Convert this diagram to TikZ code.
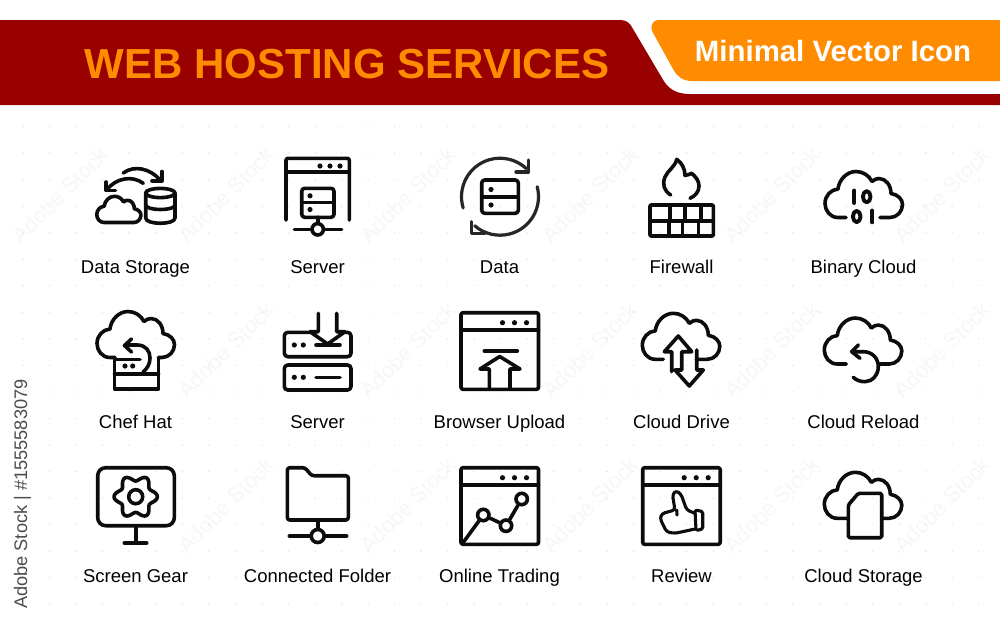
\documentclass[tikz,border=0pt]{standalone}
\usepackage{fontspec}
\setmainfont{Liberation Sans}
\definecolor{bandred}{HTML}{990000}
\definecolor{bandorange}{HTML}{FF8C00}
\definecolor{inkdark}{HTML}{0C0C0C}
\tikzset{
  iconline/.style={draw=inkdark, line width=3.6pt, line cap=round, line join=round},
  slimline/.style={draw=inkdark, line width=3.1pt, line cap=round, line join=round},
  digitline/.style={draw=inkdark, line width=3.9pt, line cap=round, line join=round},
  tinydot/.style={circle, fill=inkdark, inner sep=0pt, minimum size=5.2pt},
  hubring/.style={circle, draw=inkdark, line width=3.6pt, fill=white, inner sep=0pt, minimum size=11.4pt},
  iconlabel/.style={anchor=base, font=\fontsize{18.5}{20}\selectfont, text=black, inner sep=0pt},
  markfaint/.style={rotate=45, font=\fontsize{22}{24}\selectfont, text=black!3, inner sep=0pt},
}
% outline of a cloud, its bottom runs from #1 to #2
\newcommand{\cloudline}[2]{
  \draw[iconline] (#1,0) -- (-26,0) .. controls (-34,0) and (-39,-7) .. (-39,-14)
    .. controls (-39,-22) and (-33,-28) .. (-26,-28.5)
    .. controls (-25,-38) and (-17,-46) .. (-8,-46)
    .. controls (-1,-46) and (5,-42) .. (8,-36)
    .. controls (10,-38) and (13,-39) .. (15,-39)
    .. controls (22,-39) and (27,-32) .. (27,-24)
    .. controls (34,-23) and (38.5,-18) .. (38.5,-13)
    .. controls (38.5,-6) and (33,0) .. (26,0) -- (#2,0);
}
% browser window with three dots
\newcommand{\browserbox}[3]{
  \begin{scope}[shift={(#2,#3)}]
    \draw[iconline, rounded corners=2pt] (0,0) rectangle (77.5,76.6);
    \draw[iconline] (0,17) -- (77.5,17);
    \node[tinydot] (#1a) at (41.5,10){};
    \node[tinydot] (#1b) at (53.5,10){};
    \node[tinydot] (#1c) at (65.5,10){};
  \end{scope}
}
\begin{document}
\begin{tikzpicture}[x=1pt, y=-1pt]
\useasboundingbox (0,0) rectangle (1000,625);
\fill[white] (0,0) rectangle (1000,625);
% background marks
\foreach \mx/\my/\mtag in {60/195/a, 226/195/b, 408/195/c, 590/195/d, 772/195/e, 942/195/f,
  226/350/g, 408/350/h, 590/350/i, 772/350/j, 942/350/k,
  226/505/l, 408/505/m, 590/505/n, 772/505/o, 942/505/p}
  \node[markfaint] (mark\mtag) at (\mx,\my) {Adobe Stock};
\foreach \i in {-2,...,35}
  \foreach \j in {-1,...,17}
    \fill[black!9] ({76+26.55*\i},{153+26.55*\j}) circle (0.9);
% header
\fill[bandred] (0,20) -- (620,20) .. controls (627,20) and (630,23) .. (633,29) -- (662,78)
  .. controls (668,89) and (676,94) .. (690,94) -- (1000,94) -- (1000,105) -- (0,105) -- cycle;
\fill[bandorange] (658,20) -- (1000,20) -- (1000,81) -- (692,81)
  .. controls (682,81) and (677,76) .. (673,69) -- (652,31) .. controls (650,26) and (653,20) .. (658,20) -- cycle;
\node[anchor=base, font=\bfseries\fontsize{42}{44}\selectfont, text=bandorange, inner sep=0pt] (headtitle) at (347,78) {WEB HOSTING SERVICES};
\node[anchor=base, font=\bfseries\fontsize{29.4}{32}\selectfont, text=white, inner sep=0pt] (headsub) at (833,61) {Minimal Vector Icon};
% side text
\node[anchor=west, rotate=90, font=\fontsize{18.2}{20}\selectfont, text=black!70, inner sep=0pt] (stockid) at (22.5,609) {Adobe Stock | \#1555583079};
% labels
\foreach \px/\py/\txt/\tag in {135.5/273.5/Data Storage/lblstorage, 317.5/273.5/Server/lblserver, 499.5/273.5/Data/lbldata, 681.5/273.5/Firewall/lblfirewall, 863.5/273.5/Binary Cloud/lblbinary,
  135.5/428.3/Chef Hat/lblchef, 317.5/428.3/Server/lblservertwo, 499.5/428.3/Browser Upload/lblupload, 681.5/428.3/Cloud Drive/lbldrive, 863.5/428.3/Cloud Reload/lblreload,
  135.5/582.7/Screen Gear/lblgear, 317.5/582.7/Connected Folder/lblfolder, 499.5/582.7/Online Trading/lbltrading, 681.5/582.7/Review/lblreview, 863.5/582.7/Cloud Storage/lblcloud}
  \node[iconlabel] (\tag) at (\px,\py) {\txt};
% data storage
\begin{scope}[shift={(119,222.5)}, scale=.57]
  \cloudline{0}{0}
\end{scope}
\draw[iconline] (160.3,193) ellipse [x radius=14.7, y radius=4.6];
\draw[iconline] (145.7,193) -- (145.7,218) .. controls (145.7,225) and (175,225) .. (175,218) -- (175,193);
\draw[iconline] (145.7,205) .. controls (146,211) and (175,211) .. (175,205);
\draw[iconline] (123.3,173) .. controls (134,165) and (150,168) .. (160.5,180.5);
\draw[iconline] (161.7,171.5) -- (161.7,181) -- (152,181);
\draw[iconline] (143.3,183.3) .. controls (132,175) and (116,178) .. (106.5,190);
\draw[iconline] (106.2,182) -- (106.2,190.5) -- (115.5,190.5);
% server in window
\draw[iconline, rounded corners=2pt] (286,220) -- (286,158.3) -- (349.3,158.3) -- (349.3,220);
\draw[iconline] (286,171.7) -- (349.3,171.7);
\node[tinydot] (srvdota) at (320,166){};
\node[tinydot] (srvdotb) at (330,166){};
\node[tinydot] (srvdotc) at (340,166){};
\draw[iconline, rounded corners=3pt] (301.7,188.3) rectangle (334,217.3);
\draw[iconline] (301.7,202.5) -- (334,202.5);
\node[tinydot] (srvdotd) at (310,195.8){};
\node[tinydot] (srvdote) at (310,209.5){};
\coordinate (srvtop) at (317.7,217.3);
\coordinate (srvleft) at (294.3,229.3);
\coordinate (srvright) at (341.7,229.3);
\node[hubring] (srvhub) at (317.7,229.3){};
\draw[iconline] (srvtop) -- (srvhub);
\draw[iconline] (srvleft) -- (srvhub);
\draw[iconline] (srvhub) -- (srvright);
% data
\draw[iconline, line width=3.2pt, draw=black!85] (500,196.7) ++(163:38.5) arc (163:313:38.5);
\draw[iconline, line width=3.2pt, draw=black!85] (500,196.7) ++(-15:38.5) arc (-15:131:38.5);
\draw[iconline, line width=3.2pt, draw=black!85] (528.5,160) -- (528.5,172) -- (516,172);
\draw[iconline, line width=3.2pt, draw=black!85] (471.7,221.7) -- (471.7,233.3) -- (485,233.3);
\draw[iconline, rounded corners=3pt] (481.7,180) rectangle (518.3,213.3);
\draw[iconline] (481.7,196.7) -- (518.3,196.7);
\node[tinydot] (datadota) at (491,189.5){};
\node[tinydot] (datadotb) at (491,205){};
% firewall
\draw[iconline] (670.7,195) .. controls (664,191) and (662,184) .. (665,177)
  .. controls (668,170) and (675,167) .. (676.7,159.3) .. controls (682,163) and (685,169) .. (685,175.5)
  .. controls (688,175) and (690,174) .. (691.7,173.3) .. controls (696,177) and (699,181) .. (699,186)
  .. controls (699,192) and (695,196) .. (690,198.3);
\draw[iconline, rounded corners=1pt] (650,205) rectangle (713.3,236);
\draw[iconline] (650,220.7) -- (713.3,220.7);
\foreach \wx in {670, 685, 701}
  \draw[iconline] (\wx,205) -- (\wx,220.7);
\foreach \wx in {669, 682.3, 698.3}
  \draw[iconline] (\wx,220.7) -- (\wx,236);
% binary cloud
\begin{scope}[shift={(864,217.5)}]
  \cloudline{-18}{16}
\end{scope}
\draw[digitline] (854.3,190.5) -- (854.3,203);
\draw[digitline] (866.7,196.7) ellipse [x radius=3.8, y radius=5.6];
\draw[digitline] (856.7,216.5) ellipse [x radius=3.8, y radius=5.6];
\draw[digitline] (872.3,210.5) -- (872.3,222.3);
% chef hat
\begin{scope}[shift={(136,357.5)}]
  \cloudline{-21}{22.5}
\end{scope}
\draw[iconline] (114.5,357.5) -- (114.5,389) -- (158.5,389) -- (158.5,357.5);
\draw[iconline] (114.5,374) -- (158.5,374);
\draw[iconline] (116.7,359.5) -- (140,359.5);
\node[tinydot] (hatdota) at (125,366){};
\node[tinydot] (hatdotb) at (132.7,366){};
\draw[iconline] (125,345) -- (137,345) .. controls (146,345) and (150,351) .. (150,358) .. controls (150,364) and (147,369) .. (143,372);
\draw[iconline] (131.5,339) -- (124.5,345.5) -- (131.5,352);
% server with download
\draw[iconline, rounded corners=3.5pt] (310,332.3) -- (284.3,332.3) -- (284.3,356.7) -- (351,356.7) -- (351,332.3) -- (345,332.3);
\draw[iconline, rounded corners=3.5pt] (284.3,365) rectangle (351,390);
\draw[iconline] (318.3,313.3) -- (318.3,331.7) -- (310,331.7) -- (327.7,344) -- (345,331.7) -- (336.7,331.7) -- (336.7,313.3);
\node[tinydot] (boxdota) at (294.3,345){};
\node[tinydot] (boxdotb) at (303.3,345){};
\node[tinydot] (boxdotc) at (294.3,377.3){};
\node[tinydot] (boxdotd) at (303.3,377.3){};
\draw[iconline] (316,345) -- (340,345);
\draw[iconline] (316,377.3) -- (340,377.3);
% browser upload
\browserbox{upl}{461}{312.7}
\draw[iconline] (484.3,351) -- (517.3,351);
\draw[iconline] (489.3,389) -- (489.3,369) -- (480,369) -- (499.7,356.5) -- (520,369) -- (510,369) -- (510,389);
% cloud drive
\begin{scope}[shift={(681.3,359.3)}]
  \cloudline{-18}{15}
\end{scope}
\draw[iconline] (671.7,371.7) -- (671.7,351.7) -- (664.3,351.7) -- (678.3,336) -- (691.7,351.7) -- (681.7,351.7) -- (681.7,370) -- (675,370) -- (689.3,386) -- (703.3,370) -- (696.7,370) -- (696.7,350);
% cloud reload
\begin{scope}[shift={(863.3,364)}]
  \cloudline{-17}{15}
\end{scope}
\draw[iconline] (852,351.7) -- (863.3,351.7) .. controls (872,351.7) and (878.3,358) .. (878.3,366.7)
  .. controls (878.3,375) and (872,381.7) .. (865,381.7) .. controls (860,381.7) and (856,380) .. (853.3,377.3);
\draw[iconline] (858.3,345) -- (851.7,351.7) -- (860,358.3);
% screen gear
\draw[iconline, rounded corners=8pt] (97.7,467.7) rectangle (174.3,525.7);
\coordinate (gearstem) at (135.7,525.7);
\coordinate (gearbase) at (135.7,543);
\coordinate (gearbasel) at (124.3,543);
\coordinate (gearbaser) at (146.7,543);
\draw[iconline] (gearstem) -- (gearbase);
\draw[iconline] (gearbasel) -- (gearbaser);
\draw[iconline] plot[domain=0:360, samples=73, smooth] ({135.7+(18.7+3*cos(6*\x))*cos(\x)},{496.7+(18.7+3*cos(6*\x))*sin(\x)}) -- cycle;
\node[hubring, minimum size=14pt] (gearhub) at (135.7,496.7){};
% connected folder
\draw[iconline, rounded corners=2.5pt] (287.3,520) -- (287.3,467.7) -- (305,467.7) -- (311.7,475.7) -- (348.3,475.7) -- (348.3,520) -- cycle;
\coordinate (foldtop) at (317.7,520);
\coordinate (foldleft) at (289.3,536);
\coordinate (foldright) at (346.7,536);
\node[hubring, minimum size=13pt] (foldhub) at (317.7,536){};
\draw[iconline] (foldtop) -- (foldhub);
\draw[iconline] (foldleft) -- (foldhub);
\draw[iconline] (foldhub) -- (foldright);
% online trading
\browserbox{trd}{461}{467.7}
\coordinate (trdstart) at (463.3,542.3);
\node[hubring] (trda) at (483.3,515){};
\node[hubring] (trdb) at (506,525.7){};
\node[hubring] (trdc) at (521.7,499){};
\draw[iconline] (trdstart) -- (trda);
\draw[iconline] (trda) -- (trdb);
\draw[iconline] (trdb) -- (trdc);
% review
\browserbox{rev}{642.7}{467.7}
\draw[slimline, rounded corners=3pt] (695,513.3) -- (686.7,510) -- (681,494) -- (675.5,490.5) -- (672.5,495) -- (675,510) -- (662,513.5) -- (660,518.5) -- (666.7,532) -- (675,533.3) -- (695,529);
\draw[slimline, rounded corners=1.5pt] (695,510) -- (702.7,511.5) -- (702.7,529) -- (696,530.5) -- cycle;
\draw[slimline] (676.7,510) -- (677,515);
% cloud storage
\begin{scope}[shift={(863.3,518.3)}]
  \cloudline{-16.5}{18.4}
\end{scope}
\draw[iconline, rounded corners=1.5pt] (858.3,493.3) -- (881.7,493.3) -- (881.7,537.7) -- (848.3,537.7) -- (848.3,505) -- cycle;
\end{tikzpicture}
\end{document}
